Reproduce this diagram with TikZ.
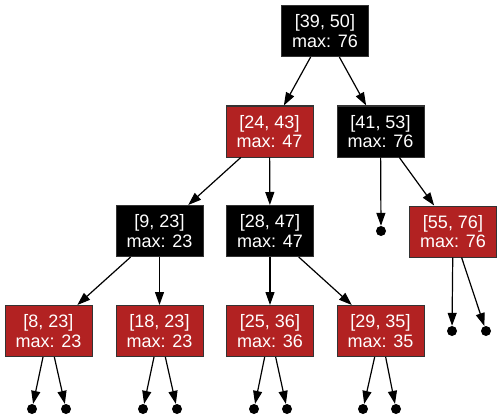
\documentclass[tikz,border=0pt]{standalone}
\usepackage{fontspec}
\setmainfont{Liberation Sans}
\usetikzlibrary{arrows.meta}
\definecolor{firebrick}{HTML}{B22222}

\begin{document}
\begin{tikzpicture}[
  x=1pt, y=-1pt,
  >={Triangle[length=13pt,width=9pt]},
  every node/.style={font=\fontsize{18}{19.5}\selectfont},
  box/.style={rectangle, draw=black!80, line width=1pt, text=white,
    minimum width=87pt, minimum height=51pt, inner sep=0pt, align=center},
  redbox/.style={box, fill=firebrick},
  blackbox/.style={box, fill=black},
  nil/.style={circle, fill=black, inner sep=0pt, minimum size=10pt},
  edge/.style={->, line width=1.2pt}
]
  \useasboundingbox (0,0) rectangle (501,420);

  \node[blackbox] (n3950) at (325,31) {[39, 50]\\max: 76};
  \node[redbox] (n2443) at (269.5,131.5) {[24, 43]\\max: 47};
  \node[blackbox] (n4153) at (380.5,131.5) {[41, 53]\\max: 76};
  \node[blackbox] (n0923) at (159.5,231) {[9, 23]\\max: 23};
  \node[blackbox] (n2847) at (270,231) {[28, 47]\\max: 47};
  \node[nil] (l1) at (381,231) {};
  \node[redbox] (n5576) at (453,231.5) {[55, 76]\\max: 76};
  \node[redbox] (n0823) at (48.5,331) {[8, 23]\\max: 23};
  \node[redbox] (n1823) at (159.5,331) {[18, 23]\\max: 23};
  \node[redbox] (n2536) at (270,331) {[25, 36]\\max: 36};
  \node[redbox] (n2935) at (380.5,331) {[29, 35]\\max: 35};
  \node[nil] (l2) at (452,331) {};
  \node[nil] (l3) at (486,331) {};
  \node[nil] (l4) at (32,409) {};
  \node[nil] (l5) at (66,409) {};
  \node[nil] (l6) at (143,409) {};
  \node[nil] (l7) at (177,409) {};
  \node[nil] (l8) at (254,409) {};
  \node[nil] (l9) at (287,409) {};
  \node[nil] (l10) at (363,409) {};
  \node[nil] (l11) at (396,409) {};

  \path[edge]
    (n3950) edge (n2443)
    (n3950) edge (n4153)
    (n2443) edge (n0923)
    (n2443) edge (n2847)
    (n4153) edge (l1)
    (n4153) edge (n5576)
    (n0923) edge (n0823)
    (n0923) edge (n1823)
    (n2847) edge (n2536)
    (n2847) edge (n2935)
    (n5576) edge (l2)
    (n5576) edge (l3)
    (n0823) edge (l4)
    (n0823) edge (l5)
    (n1823) edge (l6)
    (n1823) edge (l7)
    (n2536) edge (l8)
    (n2536) edge (l9)
    (n2935) edge (l10)
    (n2935) edge (l11);
\end{tikzpicture}
\end{document}
